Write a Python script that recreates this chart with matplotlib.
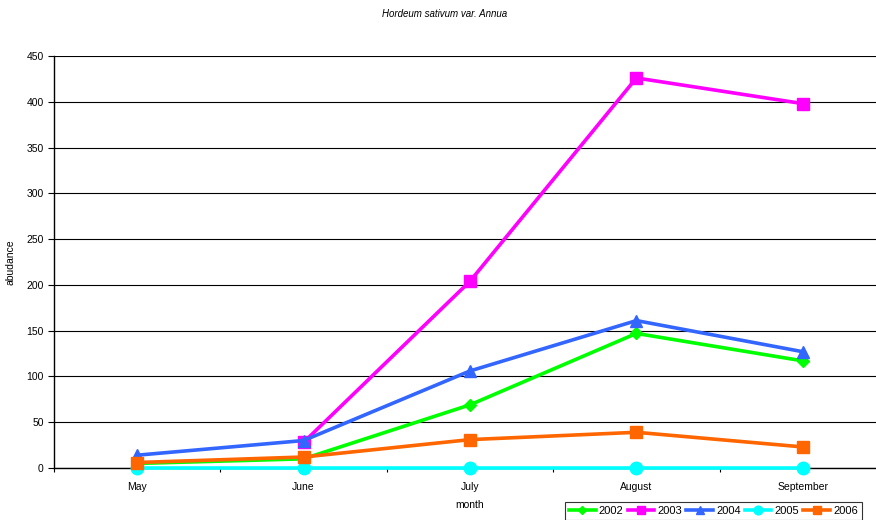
import matplotlib.pyplot as plt
import numpy as np

plt.rcParams['font.family'] = ['Liberation Sans', 'DejaVu Sans']

months = ["May", "June", "July", "August", "September"]
years = ["2002", "2003", "2004", "2005", "2006"]
y2002 = [5, 10, 69, 147, 117]
y2003 = [np.nan, 28, 204, 426, 398]
y2004 = [14, 30, 106, 161, 127]
y2005 = [0, 0, 0, 0, 0]
y2006 = [6, 12, 31, 39, 23]

series = [y2002, y2003, y2004, y2005, y2006]
colors = ["#00FF00", "#FF00FF", "#3366FF", "#00FFFF", "#FF6600"]
markers = ["D", "s", "^", "o", "s"]
msizes = [6, 9, 9, 9, 9]

fig = plt.figure(figsize=(8.76, 5.2), dpi=100)
ax = fig.add_axes([54 / 876, 0.1, 832 / 876, 0.7923])

x = np.arange(len(months))
for name, vals, c, m, ms in zip(years, series, colors, markers, msizes):
    ax.plot(x, vals, color=c, marker=m, markersize=ms, linewidth=2.6,
            label=name, clip_on=False, zorder=3)

ax.set_xlim(-0.5, len(months) - 0.5)
ax.set_ylim(0, 450)
ax.set_yticks(range(0, 451, 50))
ax.yaxis.grid(True, color="black", linewidth=0.8)
ax.set_axisbelow(True)
ax.set_xticks(x)
ax.set_xticklabels(months)
ax.set_xticks(np.arange(-0.5, len(months)), minor=True)
ax.tick_params(axis="x", which="major", length=0, pad=10, labelsize=7.5)
ax.tick_params(axis="x", which="minor", length=3, width=0.8, direction="out")
ax.tick_params(axis="y", length=4, width=0.8, labelsize=7.5)
for s in ["top", "right"]:
    ax.spines[s].set_visible(False)
ax.spines["left"].set_linewidth(1)
ax.spines["bottom"].set_linewidth(1)

ax.set_xlabel("month", fontsize=7.5, labelpad=6)
ax.set_ylabel("abudance", fontsize=7.5, labelpad=8)
fig.text(445 / 876, 1 - 14 / 520, "Hordeum sativum var. Annua", style="italic",
         fontsize=7, ha="center", va="center")

leg = fig.legend(loc="upper left", bbox_to_anchor=(565 / 876, 1 - 502 / 520),
                 ncol=5, fontsize=8, frameon=True, fancybox=False,
                 borderaxespad=0, handlelength=2.4, columnspacing=0.35,
                 handletextpad=0.3, borderpad=0.35, markerscale=0.7)
leg.get_frame().set_edgecolor("black")
leg.get_frame().set_linewidth(0.8)

fig.savefig("out.png", dpi=100)
